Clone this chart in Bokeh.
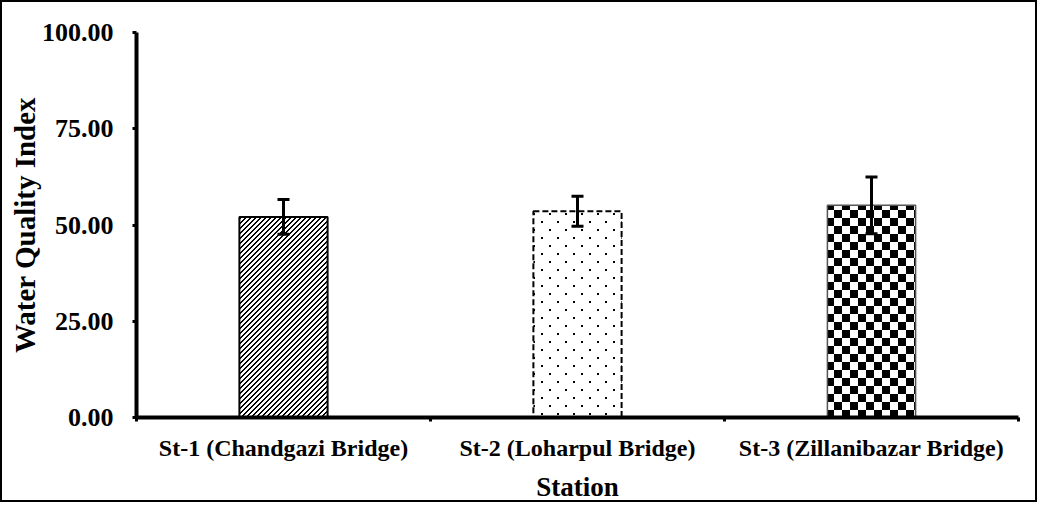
import base64, struct, zlib
from bokeh.plotting import figure
from bokeh.models import (ColumnDataSource, FixedTicker, Whisker, TeeHead,
                          ImageURLTexture, Range1d)
from bokeh.core.properties import value
from bokeh.embed import file_html
from bokeh.resources import INLINE

# ---- data ----
stations = ["St-1 (Chandgazi Bridge)", "St-2 (Loharpul Bridge)", "St-3 (Zillanibazar Bridge)"]
wqi = [52.1, 53.6, 55.1]
sd = [4.5, 3.9, 7.4]
y_ticks = [0, 25, 50, 75, 100]

FONT = "Liberation Serif"


def png_uri(rows):
    """Tiny grayscale PNG (rows of 0/255) as a data URI, used as a fill texture."""
    h, w = len(rows), len(rows[0])
    raw = b"".join(b"\x00" + bytes(r) for r in rows)
    def chunk(t, d):
        c = struct.pack(">I", len(d)) + t + d
        return c + struct.pack(">I", zlib.crc32(t + d) & 0xffffffff)
    data = (b"\x89PNG\r\n\x1a\n" + chunk(b"IHDR", struct.pack(">IIBBBBB", w, h, 8, 0, 0, 0, 0))
            + chunk(b"IDAT", zlib.compress(raw)) + chunk(b"IEND", b""))
    return "data:image/png;base64," + base64.b64encode(data).decode()


# fill textures (pixel tiles)
diag_rows = [[0 if (x + y) % 5 in (3, 4) else 255 for x in range(5)] for y in range(5)]
dot_rows = [[0 if ((x in (3, 4) and y in (3, 4)) or (x in (11, 12) and y in (11, 12))) else 255
             for x in range(16)] for y in range(16)]
checker_rows = [[0 if ((x // 8) + (y // 8)) % 2 == 0 else 255 for x in range(16)] for y in range(16)]

textures = {
    "diag": ImageURLTexture(url=png_uri(diag_rows)),
    "dots": ImageURLTexture(url=png_uri(dot_rows)),
    "checker": ImageURLTexture(url=png_uri(checker_rows)),
}

xc = [i + 0.5 for i in range(len(stations))]

p = figure(width=1037, height=502, output_backend="svg", toolbar_location=None,
           x_range=Range1d(0, len(stations)), y_range=Range1d(0, 100),
           min_border_left=134, min_border_right=21, min_border_top=30, min_border_bottom=86)
p.styles = {"border": "2px solid black"}
p.outline_line_color = None
p.grid.visible = False
p.background_fill_color = "white"
p.border_fill_color = "white"

styles = [
    dict(hatch_pattern=value("diag"), line_color="black", line_width=2),
    dict(hatch_pattern=value("dots"), line_color="black", line_width=2, line_dash="6 3"),
    dict(hatch_pattern=value("checker"), line_color="#555555", line_width=1.5),
]

for i, st in enumerate(styles):
    src = ColumnDataSource(dict(x=[xc[i]], top=[wqi[i]]))
    p.vbar(x="x", top="top", bottom=0, width=0.3, source=src, fill_color="white",
           hatch_extra=textures, **st)

err_src = ColumnDataSource(dict(x=xc, upper=[v + s for v, s in zip(wqi, sd)],
                                lower=[v - s for v, s in zip(wqi, sd)]))
w = Whisker(base="x", upper="upper", lower="lower", source=err_src, line_width=3,
            line_color="black", level="overlay",
            upper_head=TeeHead(size=12, line_width=3, line_color="black"),
            lower_head=TeeHead(size=12, line_width=3, line_color="black"))
p.add_layout(w)

# y axis
ya = p.yaxis[0]
ya.ticker = FixedTicker(ticks=y_ticks)
ya.major_label_overrides = {t: f"{t:.2f}" for t in y_ticks}
ya.axis_line_width = 4
ya.major_tick_out = 4
ya.major_tick_in = 0
ya.major_tick_line_width = 3
ya.minor_tick_line_color = None
ya.major_label_standoff = 19
ya.major_label_text_font = FONT
ya.major_label_text_font_style = "bold"
ya.major_label_text_font_size = "26px"
ya.major_label_text_color = "black"
ya.axis_label = "Water Quality Index"
ya.axis_label_text_font = FONT
ya.axis_label_text_font_style = "bold"
ya.axis_label_text_font_size = "29px"
ya.axis_label_text_color = "black"
ya.axis_label_standoff = -2

# x axis
xa = p.xaxis[0]
xa.ticker = FixedTicker(ticks=xc, minor_ticks=list(range(len(stations) + 1)))
xa.major_label_overrides = {x: s for x, s in zip(xc, stations)}
xa.axis_line_width = 4
xa.major_tick_line_color = None
xa.major_tick_out = 0
xa.major_tick_in = 0
xa.minor_tick_out = 4
xa.minor_tick_in = 0
xa.minor_tick_line_width = 3
xa.minor_tick_line_color = "black"
xa.major_label_standoff = 13
xa.major_label_text_font = FONT
xa.major_label_text_font_style = "bold"
xa.major_label_text_font_size = "24px"
xa.major_label_text_color = "black"
xa.axis_label = "Station"
xa.axis_label_text_font = FONT
xa.axis_label_text_font_style = "bold"
xa.axis_label_text_font_size = "27px"
xa.axis_label_text_color = "black"
xa.axis_label_standoff = 8

open("out.html", "w").write(file_html(p, INLINE))
